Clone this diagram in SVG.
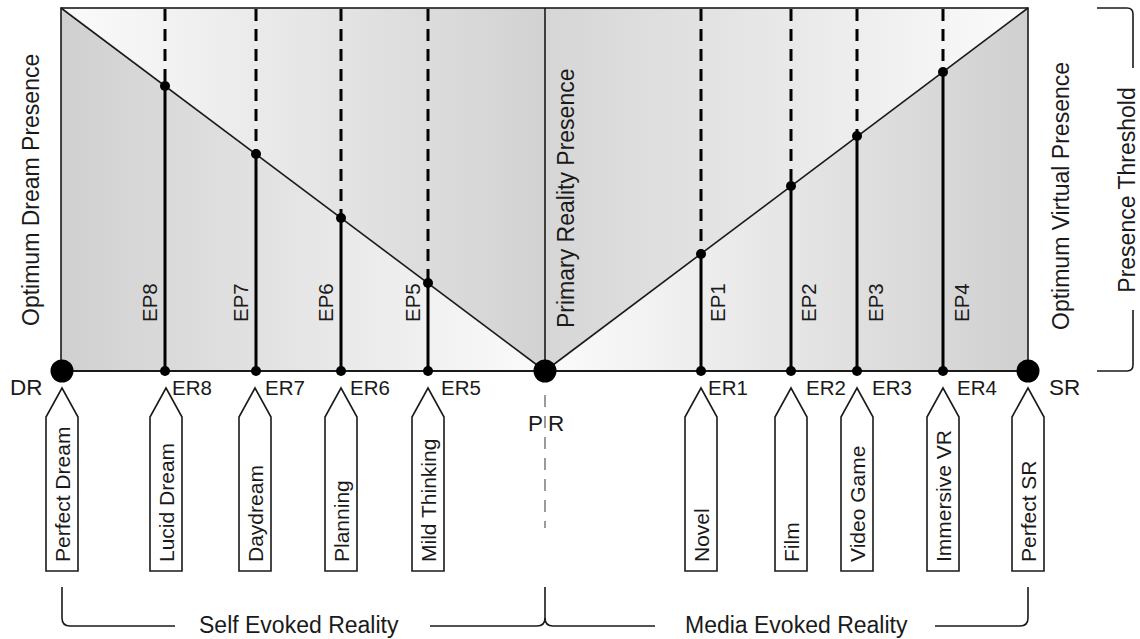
<svg xmlns="http://www.w3.org/2000/svg" width="1140" height="639" viewBox="0 0 1140 639">
  <defs>
    <linearGradient id="gLeftUp" gradientUnits="userSpaceOnUse" x1="61" y1="0" x2="545" y2="0">
      <stop offset="0" stop-color="#fbfbfb"/>
      <stop offset="1" stop-color="#d2d2d2"/>
    </linearGradient>
    <linearGradient id="gLeftLow" gradientUnits="userSpaceOnUse" x1="61" y1="0" x2="545" y2="0">
      <stop offset="0" stop-color="#d0d0d0"/>
      <stop offset="1" stop-color="#fbfbfb"/>
    </linearGradient>
    <linearGradient id="gRightUp" gradientUnits="userSpaceOnUse" x1="545" y1="0" x2="1028" y2="0">
      <stop offset="0" stop-color="#d6d6d6"/>
      <stop offset="1" stop-color="#fbfbfb"/>
    </linearGradient>
    <linearGradient id="gRightLow" gradientUnits="userSpaceOnUse" x1="545" y1="0" x2="1028" y2="0">
      <stop offset="0" stop-color="#fbfbfb"/>
      <stop offset="1" stop-color="#d0d0d0"/>
    </linearGradient>
  </defs>
  <style>
    text { font-family: "Liberation Sans", Arial, sans-serif; fill: #1a1a1a; }
    .big { font-size: 23px; }
    .mid { font-size: 21px; }
    .end { font-size: 22.5px; }
    .lbl { font-size: 20.5px; }
    .frame { fill: none; stroke: #1a1a1a; stroke-width: 1.6; }
    .solid { stroke: #000; stroke-width: 3; }
    .dash { stroke: #000; stroke-width: 3; stroke-dasharray: 12 8; }
    .pr { stroke: #666; stroke-width: 1.3; stroke-dasharray: 12 9; }
    .dot { fill: #000; }
    .ptr { fill: #fff; stroke: #1a1a1a; stroke-width: 1.6; stroke-linejoin: miter; }
    .brace { fill: none; stroke: #1a1a1a; stroke-width: 1.6; }
  </style>

  <!-- shaded presence field -->
  <g id="field">
    <polygon points="61,8 545,8 545,371" fill="url(#gLeftUp)"/>
    <polygon points="61,8 61,371 545,371" fill="url(#gLeftLow)"/>
    <polygon points="545,8 1028,8 545,371" fill="url(#gRightUp)"/>
    <polygon points="545,371 1028,8 1028,371" fill="url(#gRightLow)"/>
    <rect class="frame" x="61" y="8" width="967" height="363"/>
    <line class="frame" x1="545" y1="8" x2="545" y2="371"/>
    <line class="frame" x1="61" y1="8" x2="545" y2="371"/>
    <line class="frame" x1="545" y1="371" x2="1028" y2="8"/>
    <line x1="61" y1="371" x2="1028" y2="371" stroke="#1a1a1a" stroke-width="2.2"/>
  </g>

  <!-- connectors: experience lines, PR axis, braces -->
  <g id="connectors">
    <line class="dash" x1="165" y1="9" x2="165" y2="86"/>
    <line class="solid" x1="165" y1="86" x2="165" y2="371"/>
    <line class="dash" x1="256" y1="9" x2="256" y2="154"/>
    <line class="solid" x1="256" y1="154" x2="256" y2="371"/>
    <line class="dash" x1="341" y1="9" x2="341" y2="218"/>
    <line class="solid" x1="341" y1="218" x2="341" y2="371"/>
    <line class="dash" x1="428" y1="9" x2="428" y2="283"/>
    <line class="solid" x1="428" y1="283" x2="428" y2="371"/>

    <line class="dash" x1="701" y1="9" x2="701" y2="254"/>
    <line class="solid" x1="701" y1="254" x2="701" y2="371"/>
    <line class="dash" x1="791" y1="9" x2="791" y2="186"/>
    <line class="solid" x1="791" y1="186" x2="791" y2="371"/>
    <line class="dash" x1="857" y1="9" x2="857" y2="136"/>
    <line class="solid" x1="857" y1="136" x2="857" y2="371"/>
    <line class="dash" x1="943" y1="9" x2="943" y2="72"/>
    <line class="solid" x1="943" y1="72" x2="943" y2="371"/>

    <line class="pr" x1="545" y1="395" x2="545" y2="528"/>

    <path class="brace" d="M1097,8 H1127 Q1133,8 1133,14 V68"/>
    <path class="brace" d="M1133,310 V365 Q1133,371 1127,371 H1097"/>

    <path class="brace" d="M62,587 V618 Q62,626 70,626 H175"/>
    <path class="brace" d="M430,626 H537 Q545,626 545,618 V587"/>
    <path class="brace" d="M545,618 Q545,626 553,626 H655"/>
    <path class="brace" d="M935,626 H1020 Q1028,626 1028,618 V587"/>
  </g>

  <!-- axis titles -->
  <g id="titles">
    <text class="big" transform="translate(39,326) rotate(-90)">Optimum Dream Presence</text>
    <text class="big" transform="translate(574,328) rotate(-90)">Primary Reality Presence</text>
    <text class="big" transform="translate(1069,330) rotate(-90)">Optimum Virtual Presence</text>
    <text class="big" text-anchor="middle" transform="translate(1135,190) rotate(-90)">Presence Threshold</text>
    <text class="big" x="199" y="633">Self Evoked Reality</text>
    <text class="big" x="685" y="633">Media Evoked Reality</text>
  </g>

  <!-- reality anchors -->
  <g id="node-DR">
    <circle class="dot" cx="62" cy="371" r="11.5"/>
    <text class="end" x="10" y="395">DR</text>
  </g>
  <g id="node-PR">
    <circle class="dot" cx="545" cy="371" r="11.5"/>
    <text class="end" x="528" y="431" letter-spacing="5">PR</text>
  </g>
  <g id="node-SR">
    <circle class="dot" cx="1028" cy="371" r="11.5"/>
    <text class="end" x="1049" y="395">SR</text>
  </g>

  <!-- self evoked experiences -->
  <g id="node-EP8">
    <circle class="dot" cx="165" cy="86" r="5"/>
    <circle class="dot" cx="165" cy="371" r="5"/>
    <text class="lbl" transform="translate(157,322) rotate(-90)">EP8</text>
    <text class="lbl" x="172" y="395">ER8</text>
  </g>
  <g id="node-EP7">
    <circle class="dot" cx="256" cy="154" r="5"/>
    <circle class="dot" cx="256" cy="371" r="5"/>
    <text class="lbl" transform="translate(248,322) rotate(-90)">EP7</text>
    <text class="lbl" x="265" y="395">ER7</text>
  </g>
  <g id="node-EP6">
    <circle class="dot" cx="341" cy="218" r="5"/>
    <circle class="dot" cx="341" cy="371" r="5"/>
    <text class="lbl" transform="translate(333,322) rotate(-90)">EP6</text>
    <text class="lbl" x="350" y="395">ER6</text>
  </g>
  <g id="node-EP5">
    <circle class="dot" cx="428" cy="283" r="5"/>
    <circle class="dot" cx="428" cy="371" r="5"/>
    <text class="lbl" transform="translate(420,322) rotate(-90)">EP5</text>
    <text class="lbl" x="441" y="395">ER5</text>
  </g>

  <!-- media evoked experiences -->
  <g id="node-EP1">
    <circle class="dot" cx="701" cy="254" r="5"/>
    <circle class="dot" cx="701" cy="371" r="5"/>
    <text class="lbl" transform="translate(725,322) rotate(-90)">EP1</text>
    <text class="lbl" x="708" y="395">ER1</text>
  </g>
  <g id="node-EP2">
    <circle class="dot" cx="791" cy="186" r="5"/>
    <circle class="dot" cx="791" cy="371" r="5"/>
    <text class="lbl" transform="translate(816,322) rotate(-90)">EP2</text>
    <text class="lbl" x="806" y="395">ER2</text>
  </g>
  <g id="node-EP3">
    <circle class="dot" cx="857" cy="136" r="5"/>
    <circle class="dot" cx="857" cy="371" r="5"/>
    <text class="lbl" transform="translate(883,322) rotate(-90)">EP3</text>
    <text class="lbl" x="872" y="395">ER3</text>
  </g>
  <g id="node-EP4">
    <circle class="dot" cx="943" cy="72" r="5"/>
    <circle class="dot" cx="943" cy="371" r="5"/>
    <text class="lbl" transform="translate(969,322) rotate(-90)">EP4</text>
    <text class="lbl" x="957" y="395">ER4</text>
  </g>

  <!-- experience pointers -->
  <g id="ptr-perfect-dream">
    <path class="ptr" d="M62,388 L78,417 V571 H46 V417 Z"/>
    <text class="mid" transform="translate(70,562) rotate(-90)">Perfect Dream</text>
  </g>
  <g id="ptr-lucid-dream">
    <path class="ptr" d="M166,388 L182,417 V571 H150 V417 Z"/>
    <text class="mid" transform="translate(174,562) rotate(-90)">Lucid Dream</text>
  </g>
  <g id="ptr-daydream">
    <path class="ptr" d="M255,388 L271,417 V571 H239 V417 Z"/>
    <text class="mid" transform="translate(263,562) rotate(-90)">Daydream</text>
  </g>
  <g id="ptr-planning">
    <path class="ptr" d="M341,388 L357,417 V571 H325 V417 Z"/>
    <text class="mid" transform="translate(349,562) rotate(-90)">Planning</text>
  </g>
  <g id="ptr-mild-thinking">
    <path class="ptr" d="M428,388 L444,417 V571 H412 V417 Z"/>
    <text class="mid" transform="translate(436,562) rotate(-90)">Mild Thinking</text>
  </g>
  <g id="ptr-novel">
    <path class="ptr" d="M701,388 L717,417 V571 H685 V417 Z"/>
    <text class="mid" transform="translate(709,562) rotate(-90)">Novel</text>
  </g>
  <g id="ptr-film">
    <path class="ptr" d="M791,388 L807,417 V571 H775 V417 Z"/>
    <text class="mid" transform="translate(799,562) rotate(-90)">Film</text>
  </g>
  <g id="ptr-video-game">
    <path class="ptr" d="M857,388 L873,417 V571 H841 V417 Z"/>
    <text class="mid" transform="translate(865,562) rotate(-90)">Video Game</text>
  </g>
  <g id="ptr-immersive-vr">
    <path class="ptr" d="M943,388 L959,417 V571 H927 V417 Z"/>
    <text class="mid" transform="translate(951,562) rotate(-90)">Immersive VR</text>
  </g>
  <g id="ptr-perfect-sr">
    <path class="ptr" d="M1028,388 L1044,417 V571 H1012 V417 Z"/>
    <text class="mid" transform="translate(1036,562) rotate(-90)">Perfect SR</text>
  </g>
</svg>
